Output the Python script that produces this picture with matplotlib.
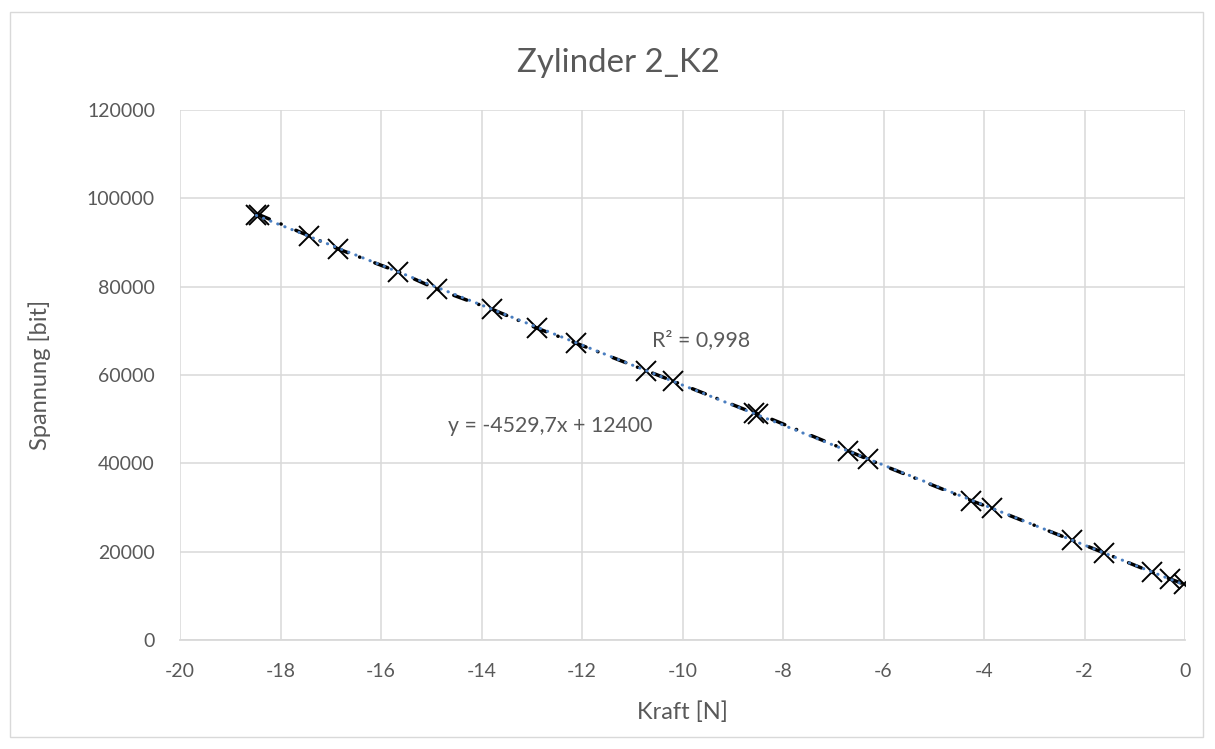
import numpy as np
import matplotlib
matplotlib.use("Agg")
import matplotlib.pyplot as plt
from matplotlib.patches import Rectangle

# ---- data ----
kraft = [-18.48, -18.43, -17.44, -16.85, -15.66, -14.88, -13.79, -12.89, -12.11,
         -10.72, -10.19, -8.57, -8.50, -6.71, -6.31, -4.25, -3.85, -2.24, -1.62,
         -0.65, -0.30, -0.02]
spannung = [96200, 96300, 91540, 88530, 83390, 79410, 74890, 70590, 67190,
            61000, 58660, 51360, 51300, 42900, 40950, 31580, 29860, 22620, 19820,
            15380, 13870, 12740]
x_ticks = [-20, -18, -16, -14, -12, -10, -8, -6, -4, -2, 0]
y_ticks = [0, 20000, 40000, 60000, 80000, 100000, 120000]
title = "Zylinder 2_K2"
x_label = "Kraft [N]"
y_label = "Spannung [bit]"
eq_text = "y = -4529,7x + 12400"
r2_text = "R² = 0,998"

plt.rcParams['font.family'] = ['Lato', 'DejaVu Sans']
plt.rcParams['axes.unicode_minus'] = False
TXT = "#595959"
GRID = "#D9D9D9"

fig = plt.figure(figsize=(12.15, 7.49), dpi=100)
fig.patch.set_facecolor("white")
fig.patches.append(Rectangle((10/1215, 1 - 737/749), 1193/1215, 725/749,
                             transform=fig.transFigure, fill=False,
                             edgecolor=GRID, linewidth=1.0))

ax = fig.add_axes([180/1215, 1 - 640.3/749, 1005/1215, (640.3 - 109.9)/749])
ax.set_xlim(-20, 0)
ax.set_ylim(0, 120000)
ax.set_xticks(x_ticks)
ax.set_yticks(y_ticks)
ax.set_xticklabels([str(v) for v in x_ticks])
ax.set_yticklabels([str(v) for v in y_ticks])
ax.grid(True, color=GRID, linewidth=1.1, zorder=0)
ax.set_axisbelow(True)
for s in ["top", "right", "left"]:
    ax.spines[s].set_visible(False)
ax.spines["bottom"].set_color(GRID)
ax.spines["bottom"].set_linewidth(1.3)
ax.tick_params(axis="both", length=0, labelsize=14, colors=TXT)
ax.tick_params(axis="x", pad=16)
ax.tick_params(axis="y", pad=18)

xs = np.array(kraft)
ys = np.array(spannung)
order = np.argsort(xs)
# connecting dash-dot line
ax.plot(xs[order], ys[order], color="black", linewidth=2.5,
        linestyle=(0, (4.0, 3.6, 0.1, 4.6)), dash_capstyle="round",
        solid_capstyle="round", zorder=2)
# markers
ax.plot(xs, ys, linestyle="none", marker="x", markersize=14.5,
        markeredgewidth=1.4, color="black", zorder=3)
# linear trendline
coef = np.polyfit(xs, ys, 1)
tx = np.array([xs.min(), xs.max()])
ax.plot(tx, np.polyval(coef, tx), color="#4A7EC0", linewidth=2.2,
        linestyle=(0, (0.1, 2.4)), dash_capstyle="round", zorder=4)

ax.text(-12.64, 48480, eq_text, fontsize=15.3, color=TXT, ha="center", va="center")
ax.text(-9.64, 67940, r2_text, fontsize=15.3, color=TXT, ha="center", va="center")

fig.text(618/1215, 1 - 63/749, title, fontsize=23.8, color=TXT, ha="center", va="center")
fig.text(682/1215, 1 - 712/749, x_label, fontsize=17, color=TXT, ha="center", va="center")
fig.text(40/1215, 1 - 375/749, y_label, fontsize=17, color=TXT, ha="center", va="center",
         rotation=90)

fig.savefig("out.png", dpi=100)
